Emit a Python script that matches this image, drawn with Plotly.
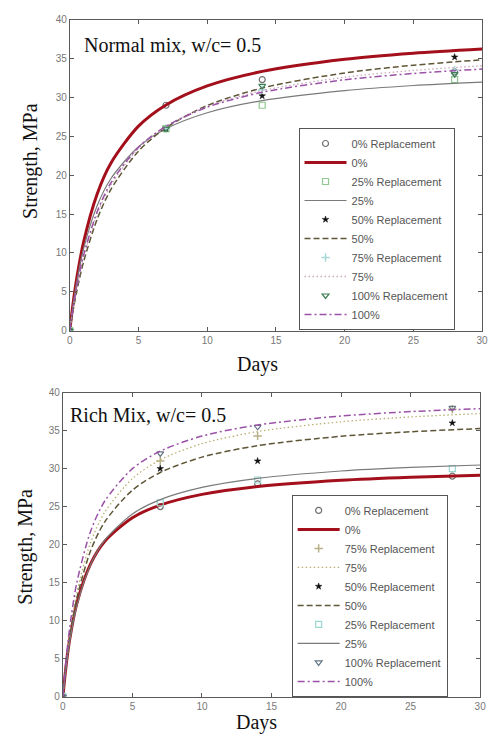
import plotly.graph_objects as go

W, H = 495, 737

# ---------------- data ----------------
days_fit = [0, 0.25, 0.5, 1, 2, 3, 5, 7, 10, 14, 20, 25, 30]
days_test = [0, 7, 14, 28]

# Normal mix, w/c = 0.5 : fitted curves
normal_fit_0 = [0, 3.63, 6.64, 11.36, 17.62, 21.58, 26.31, 29.04, 31.49, 33.36, 34.92, 35.70, 36.24]
normal_fit_25 = [0, 3.41, 6.21, 10.52, 16.11, 19.58, 23.66, 25.98, 28.04, 29.60, 30.89, 31.54, 31.98]
normal_fit_50 = [0, 2.66, 4.97, 8.82, 14.37, 18.19, 23.10, 26.12, 28.96, 31.22, 33.16, 34.15, 34.85]
normal_fit_75 = [0, 2.88, 5.36, 9.38, 15.00, 18.75, 23.44, 26.25, 28.85, 30.88, 32.61, 33.48, 34.09]
normal_fit_100 = [0, 3.02, 5.58, 9.68, 15.33, 19.03, 23.59, 26.29, 28.75, 30.67, 32.28, 33.09, 33.66]
# Normal mix : test results
normal_test_0 = [0, 29.0, 32.3, 33.3]
normal_test_25 = [0, 26.0, 29.0, 32.3]
normal_test_50 = [0, 26.0, 30.2, 35.2]
normal_test_75 = [0, 26.0, 31.0, 33.5]
normal_test_100 = [0, 26.0, 31.5, 33.0]

# Rich mix, w/c = 0.5 : fitted curves
rich_fit_0 = [0, 4.37, 7.65, 12.24, 17.49, 20.40, 23.54, 25.20, 26.61, 27.64, 28.47, 28.87, 29.14]
rich_fit_25 = [0, 4.13, 7.32, 11.93, 17.41, 20.55, 24.03, 25.91, 27.52, 28.71, 29.68, 30.15, 30.47]
rich_fit_50 = [0, 4.36, 7.81, 12.93, 19.23, 22.96, 27.17, 29.49, 31.51, 33.02, 34.25, 34.85, 35.27]
rich_fit_75 = [0, 4.60, 8.25, 13.66, 20.31, 24.24, 28.70, 31.15, 33.28, 34.87, 36.16, 36.80, 37.24]
rich_fit_100 = [0, 5.21, 9.22, 14.98, 21.80, 25.70, 29.99, 32.30, 34.28, 35.74, 36.92, 37.50, 37.89]
# Rich mix : test results
rich_test_0 = [0, 25.0, 28.0, 29.0]
rich_test_25 = [0, 25.5, 28.5, 30.0]
rich_test_50 = [0, 30.0, 31.0, 36.0]
rich_test_75 = [0, 31.0, 34.3, 37.8]
rich_test_100 = [0, 32.0, 35.5, 38.0]

x_ticks = [0, 5, 10, 15, 20, 25, 30]
y_ticks = [0, 5, 10, 15, 20, 25, 30, 35, 40]


def px_x(x):
    return x / W


def px_y(y):
    return 1 - y / H


fig = go.Figure()

RED = "#a3101c"
GRAY = "#7a7a7a"
DASH = "#5e5636"
DASH_DOT = "#9a52a6"
DOT_N = "#c8a8bc"
DOT_R = "#b8b070"


def add_marker(x, y, name, symbol, color, axes, legend, size=6, lw=1.2):
    xa, ya = axes
    fig.add_trace(go.Scatter(
        x=x, y=y, mode="markers", name=name, xaxis=xa, yaxis=ya, legend=legend,
        marker=dict(symbol=symbol, size=size, color=color, line=dict(color=color, width=lw)),
    ))


def add_line(x, y, name, color, width, dash, axes, legend):
    xa, ya = axes
    fig.add_trace(go.Scatter(
        x=x, y=y, mode="lines", name=name, xaxis=xa, yaxis=ya, legend=legend,
        line=dict(color=color, width=width, dash=dash, shape="spline", smoothing=0.8),
    ))


top = ("x", "y")
bot = ("x2", "y2")

DASHED = "6px,3px"
DOTTED = "1.5px,2.5px"
DASHDOT = "7px,3px,2px,3px"

# ---- top panel ----
add_marker(days_test, normal_test_0, "0% Replacement", "circle-open", "#707070", top, "legend")
add_line(days_fit, normal_fit_0, "0%", RED, 3, "solid", top, "legend")
add_marker(days_test, normal_test_25, "25% Replacement", "square-open", "#8fc98f", top, "legend")
add_line(days_fit, normal_fit_25, "25%", GRAY, 1.2, "solid", top, "legend")
add_marker(days_test, normal_test_50, "50% Replacement", "star", "#111111", top, "legend", size=5, lw=0.5)
add_line(days_fit, normal_fit_50, "50%", DASH, 1.5, DASHED, top, "legend")
add_marker(days_test, normal_test_75, "75% Replacement", "cross-thin-open", "#a8d8d8", top, "legend", lw=1.5)
add_line(days_fit, normal_fit_75, "75%", DOT_N, 1.3, DOTTED, top, "legend")
add_marker(days_test, normal_test_100, "100% Replacement", "triangle-down-open", "#3f7f55", top, "legend")
add_line(days_fit, normal_fit_100, "100%", DASH_DOT, 1.5, DASHDOT, top, "legend")

# ---- bottom panel ----
add_marker(days_test, rich_test_0, "0% Replacement", "circle-open", "#707070", bot, "legend2")
add_line(days_fit, rich_fit_0, "0%", RED, 3, "solid", bot, "legend2")
add_marker(days_test, rich_test_75, "75% Replacement", "cross-thin-open", "#b8b088", bot, "legend2", lw=1.5)
add_line(days_fit, rich_fit_75, "75%", DOT_R, 1.3, DOTTED, bot, "legend2")
add_marker(days_test, rich_test_50, "50% Replacement", "star", "#111111", bot, "legend2", size=5, lw=0.5)
add_line(days_fit, rich_fit_50, "50%", DASH, 1.5, DASHED, bot, "legend2")
add_marker(days_test, rich_test_25, "25% Replacement", "square-open", "#99d8d0", bot, "legend2")
add_line(days_fit, rich_fit_25, "25%", GRAY, 1.2, "solid", bot, "legend2")
add_marker(days_test, rich_test_100, "100% Replacement", "triangle-down-open", "#667788", bot, "legend2")
add_line(days_fit, rich_fit_100, "100%", DASH_DOT, 1.5, DASHDOT, bot, "legend2")

axis_common = dict(
    showgrid=False, zeroline=False, showline=True, linecolor="#5a5a5a", linewidth=1,
    mirror="ticks", ticks="inside", ticklen=4, tickcolor="#5a5a5a",
    tickfont=dict(family="Liberation Sans, Arial, sans-serif", size=10, color="#777777"),
)

serif = "Liberation Serif, Times New Roman, serif"
leg_font = dict(family="Liberation Sans, Arial, sans-serif", size=11, color="#555555")

fig.update_layout(
    width=W, height=H,
    margin=dict(l=0, r=0, t=0, b=0),
    paper_bgcolor="white", plot_bgcolor="white",
    xaxis=dict(domain=[px_x(68), px_x(488)], range=[0, 30], tickvals=x_ticks, anchor="y", **axis_common),
    yaxis=dict(domain=[px_y(330), px_y(14)], range=[0, 40], tickvals=y_ticks, anchor="x", **axis_common),
    xaxis2=dict(domain=[px_x(61), px_x(486)], range=[0, 30], tickvals=x_ticks, anchor="y2", **axis_common),
    yaxis2=dict(domain=[px_y(702), px_y(393)], range=[0, 40], tickvals=y_ticks, anchor="x2", **axis_common),
    legend=dict(
        x=px_x(301), y=px_y(124), xanchor="left", yanchor="top",
        bgcolor="white", bordercolor="#555555", borderwidth=1,
        font=leg_font, itemwidth=42, tracegroupgap=0,
    ),
    legend2=dict(
        x=px_x(294), y=px_y(497), xanchor="left", yanchor="top",
        bgcolor="white", bordercolor="#555555", borderwidth=1,
        font=leg_font, itemwidth=42, tracegroupgap=0,
    ),
    showlegend=True,
)

annos = [
    dict(text="Normal mix, w/c= 0.5", x=px_x(80), y=px_y(40), xanchor="left", yanchor="middle",
         font=dict(family=serif, size=20, color="#111111")),
    dict(text="Rich Mix, w/c= 0.5", x=px_x(66), y=px_y(416), xanchor="left", yanchor="middle",
         font=dict(family=serif, size=20, color="#111111")),
    dict(text="Days", x=px_x(259), y=px_y(364), xanchor="center", yanchor="middle",
         font=dict(family=serif, size=20, color="#111111")),
    dict(text="Days", x=px_x(258), y=px_y(728), xanchor="center", yanchor="middle",
         font=dict(family=serif, size=20, color="#111111")),
    dict(text="Strength, MPa", x=px_x(28), y=px_y(157), xanchor="center", yanchor="middle", textangle=-90,
         font=dict(family=serif, size=20, color="#111111")),
    dict(text="Strength, MPa", x=px_x(22), y=px_y(550), xanchor="center", yanchor="middle", textangle=-90,
         font=dict(family=serif, size=20, color="#111111")),
]
for a in annos:
    a.update(xref="paper", yref="paper", showarrow=False)
fig.update_layout(annotations=annos)

fig.write_html("out.html")
